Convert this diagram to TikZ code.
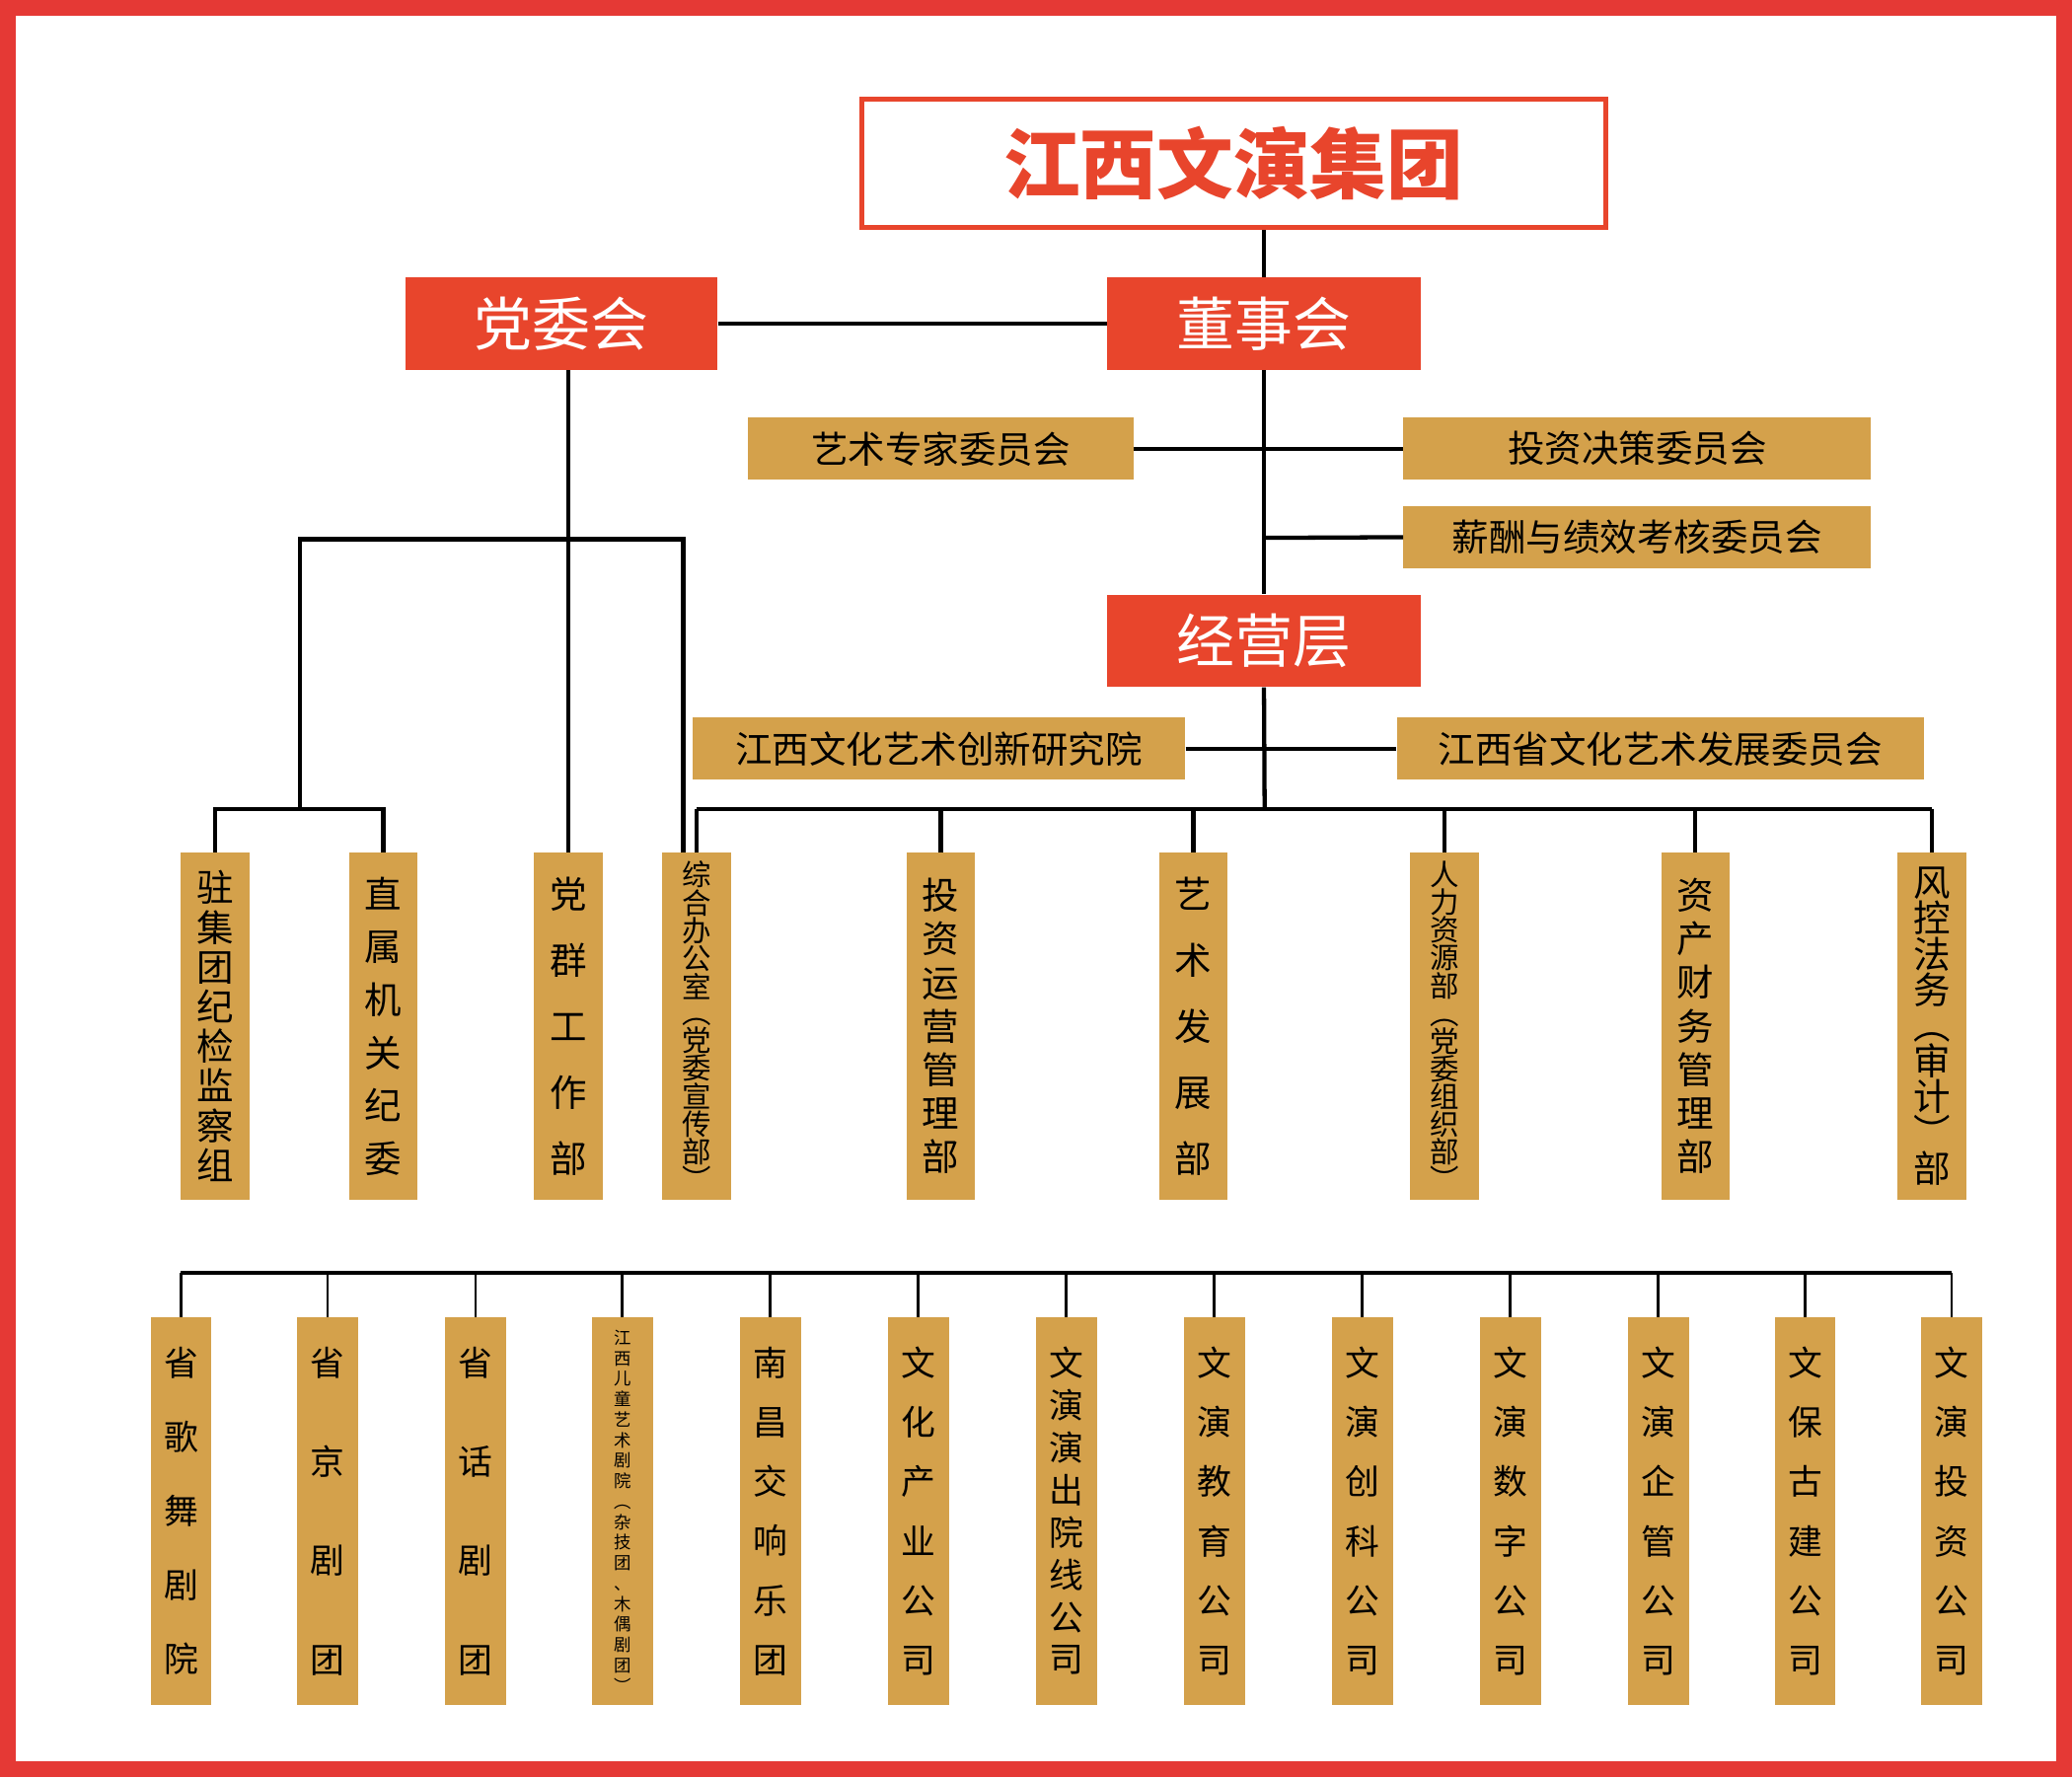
\documentclass[tikz,border=0pt]{standalone}
\usepackage{fontspec}
\setmainfont{Noto Sans CJK SC}
\definecolor{rd}{HTML}{E8452C}
\definecolor{gd}{HTML}{D4A14B}
\definecolor{fr}{HTML}{E53935}
\newcommand{\bx}[7]{\node[#1,minimum width={(#4)-(#2)},minimum height={(#5)-(#3)}] (#6) at ({((#2)+(#4))/2},{((#3)+(#5))/2}) {#7};}
\begin{document}
\begin{tikzpicture}[x=1pt,y=-1pt,
 red/.style={fill=rd,text=white,inner sep=0,font=\fontsize{44}{44}\selectfont},
 gold/.style={fill=gd,text=black,inner sep=0,font=\fontsize{28}{28}\selectfont},
 vb/.style={fill=gd,text=black,inner sep=0,align=center},
 ln/.style={line width=3.2pt,black}]
\useasboundingbox (0,0) rectangle (1568,1345);
\fill[white] (0,0) rectangle (1568,1345);
\draw[fr,line width=12pt] (6,6) rectangle (1562,1339);
\bx{draw=rd,line width=4pt,text=rd,font=\fontsize{58}{58}\selectfont\bfseries}{652}{75}{1215}{172}{t}{江西文演集团}
\bx{red}{307}{210}{543}{280}{dw}{党委会}
\bx{red}{838}{210}{1075}{280}{ds}{董事会}
\bx{red}{838}{450}{1075}{520}{jy}{经营层}
\bx{gold}{566}{316}{858}{363}{ys}{艺术专家委员会}
\bx{gold}{1062}{316}{1416}{363}{tz}{投资决策委员会}
\bx{gold}{1062}{383}{1416}{430}{xc}{薪酬与绩效考核委员会}
\bx{gold}{524}{543}{897}{590}{cx}{江西文化艺术创新研究院}
\bx{gold}{1057}{543}{1456}{590}{fz}{江西省文化艺术发展委员会}
% middle boxes
\newcommand{\mb}[5]{\bx{vb,font=\fontsize{#3}{#4}\selectfont}{#1-26}{645}{#1+26}{908}{#2}{#5}}
\mb{163}{m1}{28}{30}{驻\\集\\团\\纪\\检\\监\\察\\组}
\mb{290}{m2}{28}{40}{直\\属\\机\\关\\纪\\委}
\mb{430}{m3}{28}{50}{党\\群\\工\\作\\部}
\mb{527}{m4}{22}{19.5}{综\\合\\办\\公\\室\\︵\\党\\委\\宣\\传\\部\\︶}
\mb{712}{m5}{28}{33}{投\\资\\运\\营\\管\\理\\部}
\mb{903}{m6}{28}{50}{艺\\术\\发\\展\\部}
\mb{1093}{m7}{22}{21}{人\\力\\资\\源\\部\\︵\\党\\委\\组\\织\\部\\︶}
\mb{1283}{m8}{28}{33}{资\\产\\财\\务\\管\\理\\部}
\mb{1462}{m9}{28}{27}{风\\控\\法\\务\\︵\\审\\计\\︶\\部}
% bottom boxes
\newcommand{\lb}[5]{\bx{vb,font=\fontsize{#3}{#4}\selectfont}{#1-23}{997}{#1+23}{1290}{#2}{#5}}
\lb{137}{b1}{26}{56}{省\\歌\\舞\\剧\\院}
\lb{248}{b2}{26}{75}{省\\京\\剧\\团}
\lb{360}{b3}{26}{75}{省\\话\\剧\\团}
\lb{471}{b4}{13}{15.5}{江\\西\\儿\\童\\艺\\术\\剧\\院\\︵\\杂\\技\\团\\、\\木\\偶\\剧\\团\\︶}
\lb{583}{b5}{26}{45}{南\\昌\\交\\响\\乐\\团}
\lb{695}{b6}{26}{45}{文\\化\\产\\业\\公\\司}
\lb{807}{b7}{26}{32}{文\\演\\演\\出\\院\\线\\公\\司}
\lb{919}{b8}{26}{45}{文\\演\\教\\育\\公\\司}
\lb{1031}{b9}{26}{45}{文\\演\\创\\科\\公\\司}
\lb{1143}{b10}{26}{45}{文\\演\\数\\字\\公\\司}
\lb{1255}{b11}{26}{45}{文\\演\\企\\管\\公\\司}
\lb{1366}{b12}{26}{45}{文\\保\\古\\建\\公\\司}
\lb{1477}{b13}{26}{45}{文\\演\\投\\资\\公\\司}
% connectors
\draw[ln] (ds.north |- t.south) -- (ds.north);
\draw[ln] (dw.east) -- (ds.west);
\draw[ln] (ds.south) -- (jy.north);
\draw[ln] (ys.east) -- (tz.west);
\draw[ln] (xc.west) -- (957,407);
\draw[ln] (cx.east) -- (fz.west);
\coordinate (bus) at (957,612);
\draw[ln] (jy.south) -- (bus);
\draw[ln] (527,612) -- (1462,612);
\foreach \n in {m4,m5,m6,m7,m8,m9} \draw[ln] (\n.north |- bus) -- (\n.north);
\draw[ln] (m3.north |- dw.south) -- (m3.north);
\draw[ln] (227,612) -- (227,408) -- (517,408) -- (517,645);
\draw[ln] (m1.north) -- (163,612) -- (290,612) -- (m2.north);
\draw[ln] (137,963) -- (1477,963);
\foreach \n in {b1,b2,b3,b4,b5,b6,b7,b8,b9,b10,b11,b12,b13} \draw[line width=2pt] (\n.north |- 0,963) -- (\n.north);
\end{tikzpicture}
\end{document}
